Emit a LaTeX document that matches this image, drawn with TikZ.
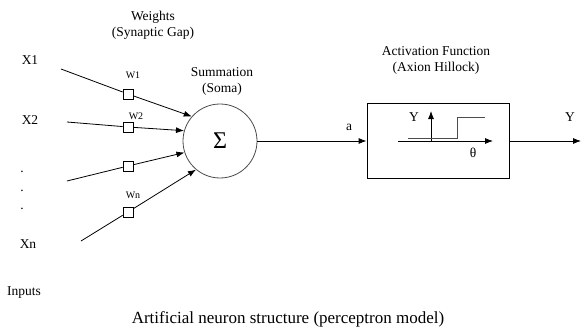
\documentclass[tikz,border=0pt]{standalone}
\usepackage{fontspec}
\setmainfont{Liberation Serif}
\usetikzlibrary{arrows.meta, positioning}

\begin{document}
\begin{tikzpicture}[x=1pt, y=-1pt, line width=0.8pt]
        \tikzstyle{label} = [font=\fontsize{13.5}{16}\selectfont, align=center, inner sep=1pt]
        \tikzstyle{wlabel} = [font=\fontsize{10}{12}\selectfont, inner sep=1pt]
        \tikzstyle{weight} = [rectangle, draw, fill=white, minimum size=10pt, inner sep=0pt, line width=0.6pt]
        \tikzstyle{arrow} = [-{Latex[length=8pt, width=6pt]}]

        \useasboundingbox (0,0) rectangle (581,329);

        % Titel
        \node (weights) [label] at (153,25) {Weights\\(Synaptic Gap)};
        \node (summlabel) [label] at (222,81) {Summation\\(Soma)};
        \node (actlabel) [label] at (436,60) {Activation Function\\(Axion Hillock)};

        % Eingaenge
        \node (x1) [label] at (30,60) {X1};
        \node (x2) [label] at (30,120) {X2};
        \foreach \i/\y in {1/172, 2/191, 3/209}
            \node (dot\i) [label, anchor=base] at (22,\y) {.};
        \node (xn) [label] at (28,244) {Xn};
        \node (inputs) [label] at (24,293) {Inputs};

        \coordinate (in1) at (61,69);
        \coordinate (in2) at (67,122);
        \coordinate (in3) at (67,181);
        \coordinate (inn) at (81,241);

        % Gewichte
        \node (w1) [weight] at (128,94) {};
        \node (w2) [weight] at (128,127) {};
        \node (w3) [weight] at (128,166) {};
        \node (wn) [weight] at (128,212) {};
        \node (w1label) [wlabel] at (133,75) {W1};
        \node (w2label) [wlabel] at (136,116) {W2};
        \node (wnlabel) [wlabel] at (133,195) {Wn};

        % Summe
        \node (sum) [circle, draw=black!70, minimum size=74pt, inner sep=0pt, font=\fontsize{24}{26}\selectfont] at (220,141) {Σ};

        % Pfeile zur Summe
        \draw (in1) -- (w1);
        \draw [arrow] (w1) -- (sum.139);
        \draw (in2) -- (w2);
        \draw [arrow] (w2) -- (sum.164);
        \draw (in3) -- (w3);
        \draw [arrow] (w3) -- (sum.198);
        \draw (inn) -- (wn);
        \draw [arrow] (wn) -- (sum.230);

        % Aktivierung
        \node (act) [rectangle, draw, minimum width=142pt, minimum height=75pt] at (438,141) {};
        \draw [arrow] (sum) -- (act);
        \node (alabel) [label] at (349,127) {a};

        \coordinate (haxs) at (398,141);
        \coordinate (haxe) at (493,141);
        \coordinate (vaxs) at (431,141);
        \coordinate (vaxe) at (431,111);
        \draw [arrow] (haxs) -- (haxe);
        \draw [arrow] (vaxs) -- (vaxe);
        \draw [black!70] (408,138) -- (457,138) -- (457,117) -- (485,117);
        \node (ylabel) [label] at (414,117) {Y};
        \node (theta) [label] at (473,153) {θ};

        % Ausgang
        \coordinate (yout) at (581,141);
        \draw [arrow] (act) -- (yout);
        \node (youtlabel) [label] at (570,117) {Y};

        % Bildunterschrift
        \node (caption) [font=\fontsize{17}{20}\selectfont] at (288,319) {Artificial neuron structure (perceptron model)};
\end{tikzpicture}
\end{document}
